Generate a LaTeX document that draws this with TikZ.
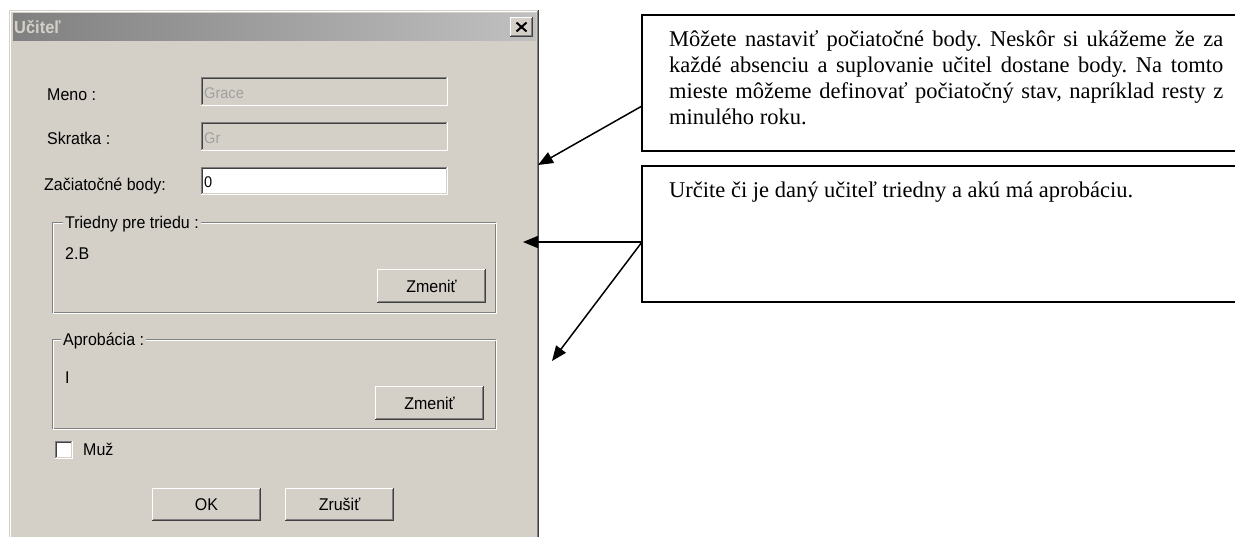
\documentclass[tikz,border=0pt]{standalone}
\usepackage{fontspec}
\usetikzlibrary{arrows.meta,calc}
\setmainfont{Liberation Serif}
\newfontfamily\uifont[FakeStretch=0.94]{Liberation Sans}
\newfontfamily\fieldfont[FakeStretch=0.94]{Liberation Sans}
\newfontfamily\notefont{Liberation Serif}
\definecolor{winbg}{HTML}{D4D0C8}
\definecolor{windk}{HTML}{404040}
\definecolor{winmd}{HTML}{808080}
\definecolor{titleL}{HTML}{808080}
\definecolor{titleR}{HTML}{C0C0C0}
\definecolor{distxt}{HTML}{A0A0A0}
% sunken 3D frame: x1 y1 x2 y2 fill
\newcommand\uiSunken[5]{%
  \fill[#5] (#1,#2) rectangle (#3,#4);
  \begin{scope}[line width=1pt]
  \draw[winmd] (#1+0.5,#4) -- (#1+0.5,#2+0.5) -- (#3,#2+0.5);
  \draw[windk] (#1+1.5,#4-1) -- (#1+1.5,#2+1.5) -- (#3-1,#2+1.5);
  \draw[white] (#1,#4-0.5) -- (#3-0.5,#4-0.5) -- (#3-0.5,#2);
  \draw[winbg] (#1+1,#4-1.5) -- (#3-1.5,#4-1.5) -- (#3-1.5,#2+1);
  \end{scope}}
% raised 3D button: x1 y1 x2 y2
\newcommand\uiRaised[4]{%
  \fill[winbg] (#1,#2) rectangle (#3,#4);
  \begin{scope}[line width=1pt]
  \draw[white] (#1+0.5,#4-1) -- (#1+0.5,#2+0.5) -- (#3-1,#2+0.5);
  \draw[windk] (#1,#4-0.5) -- (#3-0.5,#4-0.5) -- (#3-0.5,#2);
  \draw[winmd] (#1+1,#4-1.5) -- (#3-1.5,#4-1.5) -- (#3-1.5,#2+1);
  \end{scope}}
% etched group frame
\newcommand\uiGroup[4]{%
  \begin{scope}[line width=1pt]
  \draw[winmd] (#1+0.5,#2+0.5) rectangle (#3-1.5,#4-1.5);
  \draw[white] (#1+1.5,#2+1.5) rectangle (#3-0.5,#4-0.5);
  \end{scope}}
\tikzset{
  uitext/.style={font=\uifont\fontsize{17}{20}\selectfont, inner sep=0pt, anchor=base west},
  fieldtext/.style={font=\fieldfont\fontsize{15.5}{18}\selectfont, inner sep=0pt, anchor=base west},
  btntext/.style={font=\uifont\fontsize{17}{20}\selectfont, inner sep=0pt, anchor=center},
  grouplabel/.style={uitext, fill=winbg, inner xsep=2pt, inner ysep=0pt},
  callout/.style={draw, line width=1.6pt, fill=white, inner sep=0pt, outer sep=0pt,
    anchor=north west, minimum width=612pt, minimum height=136pt},
  notetext/.style={font=\notefont\fontsize{22.5}{26}\selectfont\frenchspacing, text width=554pt,
    align=justify, inner sep=0pt, anchor=north west},
  arr/.style={line width=1.5pt, -{Triangle[length=15pt,width=12pt]}}
}
\begin{document}
\begin{tikzpicture}[x=1pt,y=-1pt]
\useasboundingbox (0,0) rectangle (1235,536);
\clip (0,0) rectangle (1235,536);
\fill[white] (0,0) rectangle (1235,536);
% window
\fill[winbg] (9,10) rectangle (539,545);
\begin{scope}[line width=1pt]
\draw[winbg] (9.5,545) -- (9.5,10.5) -- (539,10.5);
\draw[white] (10.5,545) -- (10.5,11.5) -- (538,11.5);
\draw[windk] (538.5,10) -- (538.5,545);
\draw[winmd] (537.5,11) -- (537.5,545);
\end{scope}
\shade[left color=titleL, right color=titleR] (13,13) rectangle (536,40);
\node[font=\uifont\bfseries\fontsize{17.5}{20}\selectfont, text=winbg, inner sep=0pt, anchor=base west] (title) at (14,33) {Učiteľ};
\uiRaised{510}{17}{533}{37}
\draw[line width=2pt] (516.5,22.5) -- (526.5,31.5) (526.5,22.5) -- (516.5,31.5);
% fields
\node[uitext] (lmeno) at (47,100) {Meno :};
\uiSunken{201}{77}{448}{106}{winbg}
\node[fieldtext, text=distxt] (vmeno) at (204,98) {Grace};
\node[uitext] (lskr) at (47,144) {Skratka :};
\uiSunken{201}{122}{448}{151}{winbg}
\node[fieldtext, text=distxt] (vskr) at (204,143) {Gr};
\node[uitext] (lbody) at (44,190) {Začiatočné body:};
\uiSunken{201}{167}{448}{195}{white}
\node[fieldtext] (vbody) at (204,187) {0};
% group 1
\uiGroup{52}{222}{497}{314}
\node[grouplabel] (g1) at (63,228) {Triedny pre triedu :};
\node[uitext] (v1) at (65,259) {2.B};
\uiRaised{377}{269}{486}{303}
\node[btntext] (bz1) at (431.5,286) {Zmeniť};
% group 2
\uiGroup{52}{339}{497}{430}
\node[grouplabel] (g2) at (61,345) {Aprobácia :};
\node[uitext] (v2) at (65,383) {I};
\uiRaised{375}{386}{484}{420}
\node[btntext] (bz2) at (429.5,403) {Zmeniť};
% checkbox
\uiSunken{55}{441}{73}{459}{white}
\node[uitext] (muz) at (83,455) {Muž};
% buttons
\uiRaised{152}{488}{261}{521}
\node[btntext] (ok) at (206.5,504.5) {OK};
\uiRaised{285}{488}{394}{521}
\node[btntext] (zrus) at (339.5,504.5) {Zrušiť};
% callouts
\node[callout] (c1) at (642,15) {};
\node[notetext] (t1) at (669,30.5) {Môžete nastaviť počiatočné body. Neskôr si ukážeme že za\linebreak
každé absenciu a suplovanie učitel dostane body. Na tomto\linebreak
mieste môžeme definovať počiatočný stav, napríklad resty z\linebreak
minulého roku.};
\node[callout] (c2) at (642,166) {};
\node[notetext] (t2) at (669,181.5) {Určite či je daný učiteľ triedny a akú má aprobáciu.};
\coordinate (tip1) at (538,165);
\coordinate (tip2) at (523,242);
\coordinate (tip3) at (552,361);
\draw[arr] ([yshift=-23pt]c1.west) -- (tip1);
\draw[arr] ([yshift=-8pt]c2.west) -- (tip2);
\draw[arr] ([yshift=-8pt]c2.west) -- (tip3);
\end{tikzpicture}
\end{document}
